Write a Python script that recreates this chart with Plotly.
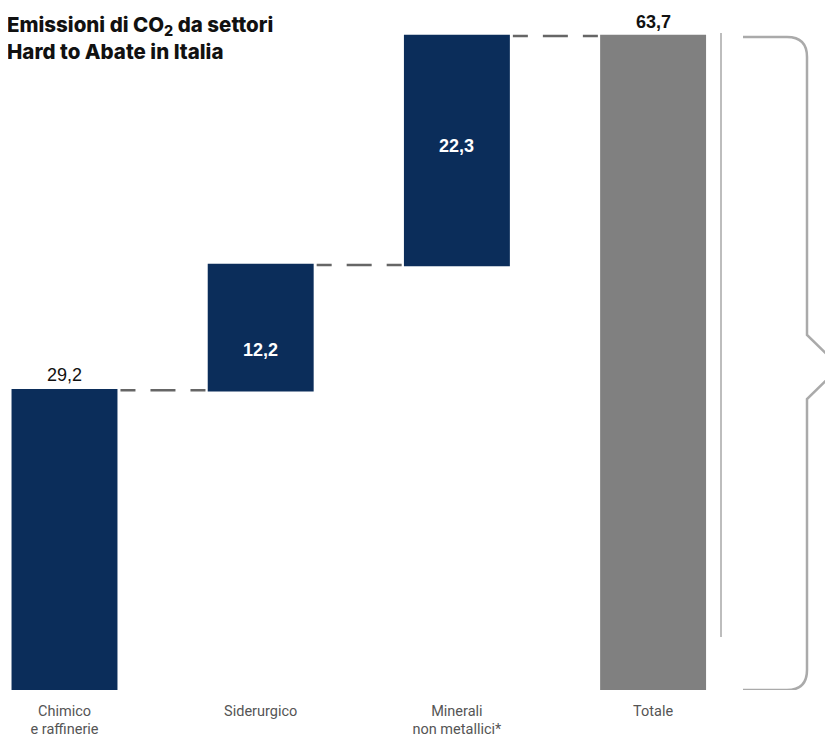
import plotly.graph_objects as go

categories = ["Chimico<br>e raffinerie", "Siderurgico", "Minerali<br>non metallici*", "Totale"]
values = [29.2, 12.2, 22.3, 63.7]
measures = ["relative", "relative", "relative", "total"]
labels = ["29,2", "12,2", "22,3", "63,7"]

NAVY = "#0b2d5a"
GRAY = "#808080"
OFF = 8                       # page body margin
W, H = 833 - OFF, 739 - OFF
X0, DX = 64.5, 196.2          # page-pixel center of first bar, spacing
BASE_PY, TOP_PY = 690, 36     # page pixels of 0 and total
PPU = (BASE_PY - TOP_PY) / values[3]
MT = 20 - OFF
MB = H - (BASE_PY - OFF)
YMAX = (BASE_PY - 20) / PPU


def px2x(px):
    return (px - X0) / DX


def py2y(py):
    return (BASE_PY - py) / PPU


xs = list(range(len(categories)))
fig = go.Figure()
fig.add_trace(go.Waterfall(
    x=xs, y=values, measure=measures,
    width=0.54,
    increasing=dict(marker=dict(color=NAVY)),
    decreasing=dict(marker=dict(color=NAVY)),
    totals=dict(marker=dict(color=GRAY)),
    connector=dict(mode="between",
                   line=dict(color="#666666", width=2.6,
                             dash="0px,3px,15px,15px,25px,15px,15px,20px")),
    textinfo="none", hoverinfo="skip",
))

cum = 0
bases = []
for v, m in zip(values, measures):
    if m == "total":
        bases.append(0)
    else:
        bases.append(cum)
        cum += v
val_font = "Liberation Sans, Arial, sans-serif"
fig.add_annotation(x=0, y=bases[0] + values[0], text=labels[0], showarrow=False,
                   yanchor="bottom", yshift=3,
                   font=dict(size=18, color="#111", family=val_font))
inner_frac = [None, 0.32, 0.52]
for i in (1, 2):
    fig.add_annotation(x=i, y=bases[i] + values[i] * inner_frac[i], text=f"<b>{labels[i]}</b>",
                       showarrow=False, font=dict(size=18, color="white", family=val_font))
fig.add_annotation(x=3, y=values[3], text=f"<b>{labels[3]}</b>", showarrow=False,
                   yanchor="bottom", yshift=2, font=dict(size=18, color="#111", family=val_font))

fig.add_annotation(xref="paper", yref="paper", x=0, y=1 + (MT - 2) / (H - MT - MB),
                   xanchor="left", yanchor="top", align="left", showarrow=False, xshift=-3,
                   text="Emissioni di CO<sub>2</sub> da settori<br>Hard to Abate in Italia",
                   font=dict(size=20.5, color="#111", family="Inter, Roboto, Arial, sans-serif",
                             weight=800))

fig.add_shape(type="line", x0=px2x(721), x1=px2x(721), y0=py2y(33), y1=py2y(637),
              line=dict(color="#bdbdbd", width=2))
top, bot = py2y(37), py2y(690)
r = 20
path = (
    f"M {px2x(743)} {top} L {px2x(787)} {top} "
    f"Q {px2x(807)} {top} {px2x(807)} {py2y(37 + r)} "
    f"L {px2x(807)} {py2y(335)} L {px2x(840)} {py2y(367)} L {px2x(807)} {py2y(399)} "
    f"L {px2x(807)} {py2y(690 - r)} "
    f"Q {px2x(807)} {bot} {px2x(787)} {bot} L {px2x(743)} {bot}"
)
fig.add_shape(type="path", path=path, line=dict(color="#aaaaaa", width=2.5))

fig.update_layout(
    width=W, height=H,
    margin=dict(l=0, r=0, t=MT, b=MB),
    plot_bgcolor="white", paper_bgcolor="white",
    showlegend=False,
    xaxis=dict(range=[px2x(OFF), px2x(OFF + W)], tickvals=xs, ticktext=categories,
               showgrid=False, zeroline=False, showline=False, ticks="",
               ticklabelstandoff=10, automargin=False,
               tickfont=dict(size=14.5, color="#555", family="Roboto, sans-serif")),
    yaxis=dict(range=[0, YMAX], visible=False, showgrid=False, zeroline=False,
               automargin=False),
)
fig.write_html("out.html")
